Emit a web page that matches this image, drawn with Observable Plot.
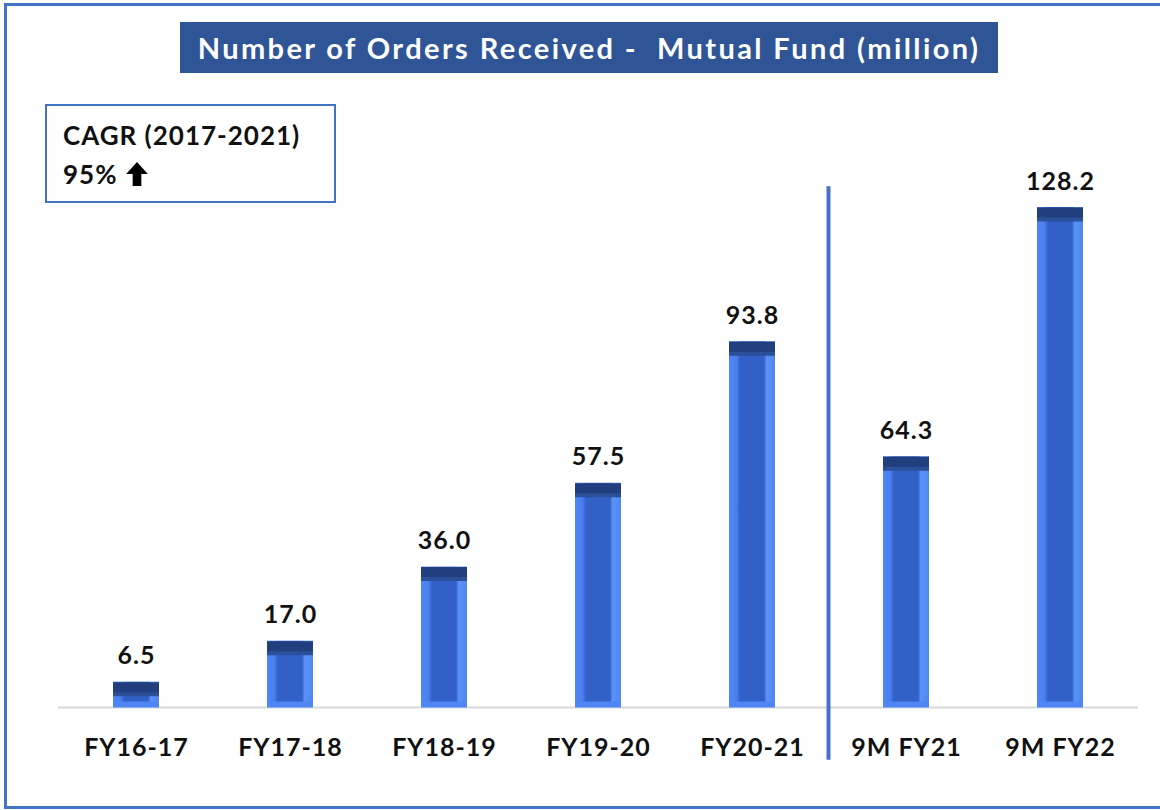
<!DOCTYPE html>
<html>
<head>
<meta charset="utf-8">
<script src="https://cdn.jsdelivr.net/npm/d3@7"></script>
<script src="https://cdn.jsdelivr.net/npm/@observablehq/plot@0.6"></script>
<style>
  html, body { margin: 0; padding: 0; background: #fff; }
  body { width: 1160px; height: 810px; position: relative; overflow: hidden; font-family: Lato, "Open Sans", sans-serif; }
  #frame { position: absolute; left: 4px; top: 3px; width: 1200px; height: 800px; border: 3px solid #4472C4; box-sizing: content-box; }
  #title { position: absolute; left: 180px; top: 22px; width: 818px; height: 51px; background: #2F5597; color: #fff;
           font-weight: 700; font-size: 29px; letter-spacing: 2.4px; line-height: 51px; text-align: center; white-space: pre; }
  #cagr { position: absolute; left: 45px; top: 104px; width: 287px; height: 95px; border: 2px solid #4472C4; background: #fff;
          font-weight: 700; font-size: 26px; letter-spacing: 1px; color: #111; }
  #cagr .l1 { position: absolute; left: 16px; top: 13px; }
  #cagr .l2 { position: absolute; left: 16px; top: 52px; display: flex; align-items: center; }
  #chart { position: absolute; left: 0; top: 0; }
  #chart text { letter-spacing: 1px; }
</style>
</head>
<body>
<div id="frame"></div>
<div id="chart"></div>
<div id="title">Number of Orders Received -  Mutual Fund (million)</div>
<div id="cagr">
  <div class="l1">CAGR (2017-2021)</div>
  <div class="l2">95%&nbsp;<svg width="24" height="26" viewBox="0 0 22 24"><path d="M11 1 L21 12 L15 12 L15 23 L7 23 L7 12 L1 12 Z" fill="#000"/></svg></div>
</div>
<script>
const categories = ["FY16-17", "FY17-18", "FY18-19", "FY19-20", "FY20-21", "9M FY21", "9M FY22"];
const values = [6.5, 17.0, 36.0, 57.5, 93.8, 64.3, 128.2];
const labels = ["6.5", "17.0", "36.0", "57.5", "93.8", "64.3", "128.2"];
const dividerAfter = ["FY20-21"];
const dividerSpan = [-13.5, 133.5];

const data = categories.map((c, i) => ({category: c, value: values[i], label: labels[i]}));

const plot = Plot.plot({
  width: 1160,
  height: 810,
  marginLeft: 58,
  marginRight: 22,
  marginTop: 161,
  marginBottom: 103,
  style: {background: "transparent", fontFamily: "Lato, 'Open Sans', sans-serif"},
  x: {domain: categories, paddingInner: 0.7, paddingOuter: 0.345, label: null},
  y: {domain: [0, 140], axis: null},
  marks: [
    Plot.ruleY([0], {stroke: "#d9d9d9", strokeWidth: 2}),
    Plot.barY(data, {x: "category", y: "value", fill: "url(#barGrad)"}),
    Plot.tickY(data, {x: "category", y: "value", stroke: "#213e7e", strokeWidth: 12, dy: 6}),
    Plot.tickY(data, {x: "category", y: "value", stroke: "#2b4f98", strokeWidth: 4, dy: 12}),
    Plot.tickY(data, {x: "category", y: 0, stroke: "#4f86f5", strokeWidth: 6, dy: -3}),
    Plot.text(data, {x: "category", y: "value", text: "label", dy: -26, fontSize: 25, fontWeight: 700, fill: "#111"}),
    Plot.ruleX(dividerAfter, {x: d => d, dx: 76, y1: dividerSpan[0], y2: dividerSpan[1], stroke: "#4472C4", strokeWidth: 4}),
    Plot.axisX({tickSize: 0, tickPadding: 31, fontSize: 25, fontWeight: 700, fill: "#111", label: null})
  ]
});

const ns = "http://www.w3.org/2000/svg";
const defs = document.createElementNS(ns, "defs");
defs.innerHTML = `
  <linearGradient id="barGrad" x1="0" x2="1" y1="0" y2="0">
    <stop offset="0" stop-color="#4f86f5"/>
    <stop offset="0.16" stop-color="#4a80f0"/>
    <stop offset="0.24" stop-color="#3260c6"/>
    <stop offset="0.76" stop-color="#3260c6"/>
    <stop offset="0.82" stop-color="#5c93f8"/>
    <stop offset="1" stop-color="#4f86f0"/>
  </linearGradient>`;
plot.insertBefore(defs, plot.firstChild);
document.getElementById("chart").appendChild(plot);
</script>
</body>
</html>
